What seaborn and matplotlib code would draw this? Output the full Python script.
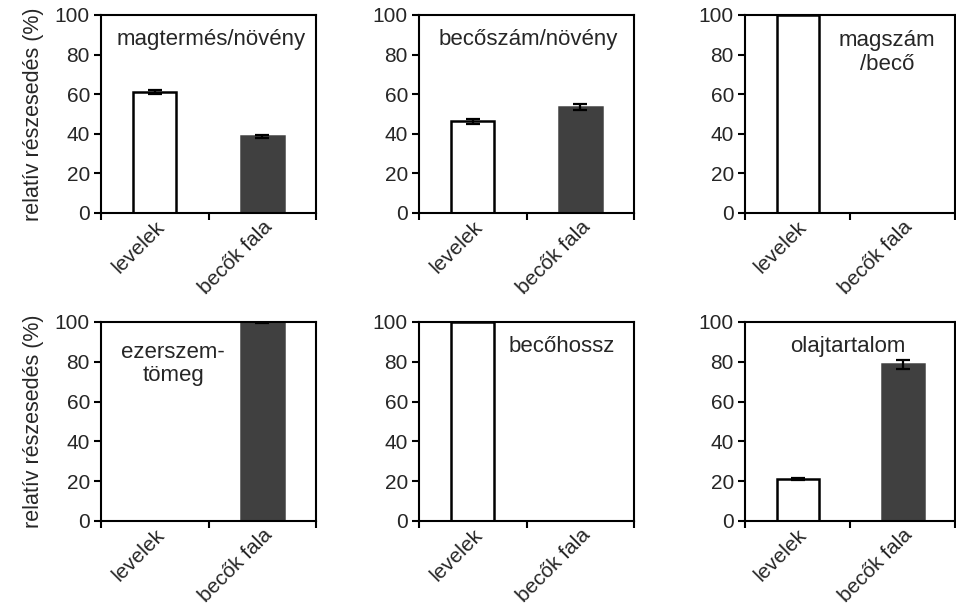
import matplotlib
matplotlib.use("Agg")
import matplotlib.pyplot as plt
import seaborn as sns
import pandas as pd

# Categories (organ) and per-trait relative contributions (%) with error values
categories = ["levelek", "becők fala"]
traits = ["magtermés/növény", "becőszám/növény", "magszám\n/becő",
          "ezerszem-\ntömeg", "becőhossz", "olajtartalom"]
levelek_values = [61.3, 46.3, 100.0, 0.0, 100.0, 21.2]
becok_fala_values = [38.7, 53.7, 0.0, 100.0, 0.0, 78.8]
levelek_errors = [1.0, 1.2, 0.0, 0.0, 0.0, 0.6]
becok_fala_errors = [0.8, 1.5, 0.0, 0.3, 0.0, 2.3]
y_ticks = [0, 20, 40, 60, 80, 100]
y_label = "relatív részesedés (%)"

bar_colors = ["#ffffff", "#404040"]
edge_colors = ["#000000", "#404040"]

sns.set_theme(style="white")
plt.rcParams["font.family"] = ["Liberation Sans", "DejaVu Sans"]

fig = plt.figure(figsize=(9.56, 6.04), dpi=100)

# Axes rectangles in figure fractions (left, bottom, width, height)
col_left = [101 / 956, 419 / 956, 745 / 956]
col_width = [215 / 956, 215 / 956, 210 / 956]
row_bottom = [(604 - 213) / 604, (604 - 521) / 604]
row_height = [198 / 604, 199 / 604]

# Trait label placement inside each panel (axes fraction)
label_pos = [(0.51, 0.875), (0.51, 0.875), (0.675, 0.81),
             (0.335, 0.79), (0.665, 0.875), (0.49, 0.875)]

for i, trait in enumerate(traits):
    r, c = divmod(i, 3)
    ax = fig.add_axes([col_left[c], row_bottom[r], col_width[c], row_height[r]])
    df = pd.DataFrame({
        "szerv": categories,
        "érték": [levelek_values[i], becok_fala_values[i]],
        "hiba": [levelek_errors[i], becok_fala_errors[i]],
    })
    sns.barplot(data=df, x="szerv", y="érték", hue="szerv", order=categories,
                hue_order=categories, palette=bar_colors, width=0.4,
                errorbar=None, legend=False, ax=ax, saturation=1)
    for patch, ec, v in zip(ax.patches, edge_colors, df["érték"]):
        patch.set_edgecolor(ec)
        patch.set_linewidth(1.8)
        if v == 0:
            patch.set_visible(False)
    # error bars drawn from the same values
    for k in range(len(categories)):
        if df["hiba"][k] > 0:
            ax.errorbar(k, df["érték"][k], yerr=df["hiba"][k], fmt="none",
                        ecolor="black", elinewidth=1.6, capsize=5, capthick=1.6,
                        zorder=5)

    ax.set_xlim(-0.5, 1.5)
    ax.set_ylim(0, 100)
    ax.set_yticks(y_ticks)
    ax.set_yticklabels([str(t) for t in y_ticks], fontsize=15)
    ax.set_xticks(range(len(categories)))
    ax.set_xticklabels(categories, rotation=45, ha="right",
                       rotation_mode="anchor", fontsize=15)
    ax.set_xticks([-0.5, 0.5, 1.5], minor=True)
    ax.tick_params(axis="x", which="major", length=0, pad=3)
    ax.tick_params(axis="x", which="minor", length=5, width=1.5,
                   direction="out", color="black", bottom=True)
    ax.tick_params(axis="y", which="major", length=5, width=1.5,
                   direction="out", color="black", left=True, pad=3)
    ax.set_xlabel("")
    if c == 0:
        ax.set_ylabel(y_label, fontsize=15.5, labelpad=8)
    else:
        ax.set_ylabel("")
    for sp in ax.spines.values():
        sp.set_visible(True)
        sp.set_color("black")
        sp.set_linewidth(1.5)
    ax.text(label_pos[i][0], label_pos[i][1], trait, transform=ax.transAxes,
            ha="center", va="center", fontsize=16, linespacing=1.15)

fig.savefig("out.png", dpi=100)
